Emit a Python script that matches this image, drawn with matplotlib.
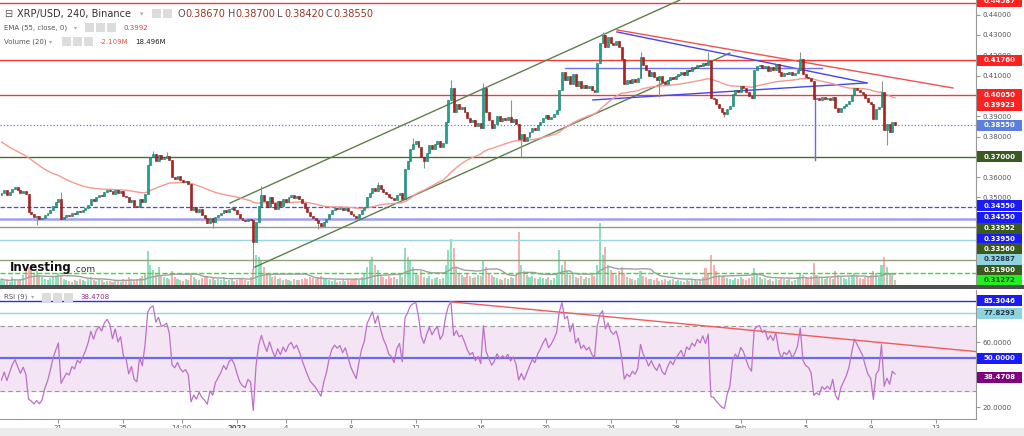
import numpy as np
import pandas as pd
import matplotlib
matplotlib.use("Agg")
import matplotlib.pyplot as plt
from matplotlib.patches import Rectangle

W, H = 1024, 436

# 4h closes of XRP/USD (Binance)
closes = [
    0.3520, 0.3535, 0.3510, 0.3525, 0.3540, 0.3550, 0.3535, 0.3520, 0.3530, 0.3515,
    0.3430, 0.3420, 0.3405, 0.3410, 0.3395, 0.3400, 0.3415, 0.3425, 0.3440, 0.3460,
    0.3475, 0.3490, 0.3395, 0.3405, 0.3415, 0.3410, 0.3425, 0.3420, 0.3435, 0.3430,
    0.3440, 0.3450, 0.3465, 0.3490, 0.3480, 0.3500, 0.3510, 0.3505, 0.3525, 0.3535,
    0.3530, 0.3515, 0.3535, 0.3520, 0.3530, 0.3505, 0.3500, 0.3475, 0.3485, 0.3460,
    0.3455, 0.3490, 0.3475, 0.3515, 0.3660, 0.3700, 0.3715, 0.3680, 0.3710, 0.3690,
    0.3695, 0.3705, 0.3685, 0.3600, 0.3590, 0.3605, 0.3585, 0.3575, 0.3580, 0.3565,
    0.3440, 0.3455, 0.3430, 0.3445, 0.3415, 0.3400, 0.3375, 0.3400, 0.3380, 0.3405,
    0.3415, 0.3425, 0.3440, 0.3430, 0.3445, 0.3450, 0.3440, 0.3420, 0.3400, 0.3390,
    0.3385, 0.3395, 0.3390, 0.3280, 0.3380, 0.3460, 0.3510, 0.3480, 0.3455, 0.3500,
    0.3470, 0.3445, 0.3480, 0.3460, 0.3490, 0.3475, 0.3500, 0.3510, 0.3495, 0.3505,
    0.3490, 0.3470, 0.3450, 0.3430, 0.3410, 0.3400, 0.3390, 0.3375, 0.3360, 0.3380,
    0.3395, 0.3420, 0.3440, 0.3450, 0.3445, 0.3450, 0.3440, 0.3448, 0.3435, 0.3420,
    0.3410, 0.3400, 0.3420, 0.3440, 0.3455, 0.3500, 0.3520, 0.3545, 0.3530, 0.3560,
    0.3540, 0.3525, 0.3515, 0.3500, 0.3495, 0.3485, 0.3510, 0.3520, 0.3490, 0.3640,
    0.3680, 0.3740, 0.3765, 0.3780, 0.3750, 0.3700, 0.3680, 0.3720, 0.3760, 0.3740,
    0.3765, 0.3780, 0.3750, 0.3770, 0.3870, 0.3980, 0.4040, 0.3920, 0.3960, 0.3935,
    0.3945, 0.3920, 0.3890, 0.3870, 0.3880, 0.3850, 0.3865, 0.3840, 0.4040, 0.3920,
    0.3880, 0.3840, 0.3860, 0.3900, 0.3875, 0.3890, 0.3880, 0.3895, 0.3870, 0.3885,
    0.3860, 0.3790, 0.3810, 0.3780, 0.3800, 0.3820, 0.3840, 0.3830, 0.3855, 0.3870,
    0.3890, 0.3905, 0.3885, 0.3895, 0.3910, 0.3930, 0.4030, 0.4120, 0.4080, 0.4100,
    0.4060, 0.4110, 0.4050, 0.4075, 0.4040, 0.4055, 0.4040, 0.4050, 0.4030, 0.4020,
    0.4160, 0.4260, 0.4300, 0.4240, 0.4290, 0.4260, 0.4250, 0.4270, 0.4240, 0.4180,
    0.4060, 0.4080, 0.4065, 0.4085, 0.4070, 0.4090, 0.4190, 0.4150, 0.4130, 0.4100,
    0.4120, 0.4095, 0.4080, 0.4100, 0.4070, 0.4060, 0.4080, 0.4095, 0.4085, 0.4100,
    0.4110, 0.4120, 0.4105, 0.4130, 0.4125, 0.4140, 0.4135, 0.4150, 0.4145, 0.4160,
    0.4150, 0.4170, 0.3990, 0.3985, 0.3960, 0.3940, 0.3920, 0.3910, 0.3935, 0.3950,
    0.4010, 0.4030, 0.4020, 0.4050, 0.4040, 0.4020, 0.4000, 0.3990, 0.4130, 0.4145,
    0.4150, 0.4135, 0.4145, 0.4125, 0.4140, 0.4130, 0.4155, 0.4120, 0.4100, 0.4115,
    0.4110, 0.4120, 0.4105, 0.4115, 0.4130, 0.4180, 0.4110, 0.4095, 0.4090, 0.4075,
    0.3985, 0.3990, 0.3980, 0.3995, 0.3985, 0.3990, 0.3980, 0.3995, 0.3940, 0.3920,
    0.3940, 0.3950, 0.3960, 0.3975, 0.4005, 0.4040, 0.4030, 0.4020, 0.4010, 0.3990,
    0.3970, 0.3960, 0.3885, 0.3935, 0.3945, 0.4020, 0.3830, 0.3860, 0.3820, 0.3870,
    0.3855,
]
first_open = 0.3510

# long wicks only
wick_hi = {22: 0.3528, 56: 0.3727, 61: 0.3725, 96: 0.3556, 139: 0.3575, 152: 0.3795,
           166: 0.4080, 178: 0.4065, 188: 0.3980, 222: 0.4316, 236: 0.4215,
           261: 0.4218, 295: 0.4215, 325: 0.4075}
wick_lo = {13: 0.3365, 78: 0.3350, 93: 0.3145, 117: 0.3345, 156: 0.3645,
           192: 0.3700, 243: 0.3996, 267: 0.3895, 327: 0.3758}

volumes = [
    6, 4, 5, 3, 8, 5, 4, 6, 10, 14,
    18, 16, 12, 14, 10, 8, 6, 5, 7, 9,
    8, 12, 10, 6, 5, 4, 3, 5, 4, 6,
    5, 4, 6, 8, 5, 4, 6, 5, 3, 4,
    4, 3, 5, 4, 3, 6, 5, 8, 6, 5,
    6, 7, 9, 12, 34, 20, 15, 12, 18, 10,
    8, 7, 6, 14, 8, 6, 5, 4, 6, 5,
    12, 8, 6, 5, 7, 8, 9, 6, 8, 5,
    6, 5, 7, 4, 5, 6, 4, 5, 7, 6,
    5, 4, 8, 16, 30, 28, 25, 18, 12, 10,
    8, 9, 6, 7, 5, 6, 5, 4, 6, 5,
    5, 6, 7, 6, 8, 7, 6, 8, 9, 7,
    6, 5, 4, 5, 3, 4, 5, 4, 6, 5,
    6, 7, 5, 8, 12, 18, 24, 28, 20, 15,
    10, 8, 6, 9, 7, 8, 6, 10, 8, 37,
    28, 24, 18, 12, 10, 14, 8, 7, 9, 6,
    7, 8, 6, 7, 20, 35, 46, 37, 18, 12,
    10, 8, 12, 9, 7, 8, 10, 9, 25, 18,
    12, 10, 8, 7, 6, 5, 7, 6, 8, 7,
    10, 53, 20, 14, 10, 8, 9, 7, 6, 8,
    7, 6, 8, 5, 7, 10, 35, 20, 24, 14,
    10, 12, 8, 7, 9, 6, 8, 7, 10, 9,
    20, 62, 30, 38, 20, 15, 12, 10, 14, 18,
    12, 8, 7, 6, 5, 7, 14, 9, 8, 6,
    6, 5, 7, 4, 5, 6, 4, 5, 6, 4,
    5, 4, 3, 5, 4, 6, 5, 4, 6, 8,
    17, 12, 30, 20, 14, 10, 8, 9, 7, 6,
    5, 7, 6, 8, 6, 5, 7, 8, 17, 12,
    8, 6, 7, 5, 6, 4, 6, 5, 7, 6,
    5, 6, 4, 5, 8, 12, 10, 8, 7, 9,
    22, 10, 8, 7, 6, 8, 7, 6, 14, 10,
    8, 7, 6, 8, 10, 12, 9, 7, 6, 8,
    8, 10, 14, 12, 8, 20, 28, 18, 12, 10, 5,
]

ema_seed = 0.3782
rsi_seed = (0.0008, 0.0016)

tick_times = ["2021-12-21", "2021-12-25", "2021-12-28 14:00", "2022-01-01", "2022-01-04",
              "2022-01-08", "2022-01-12", "2022-01-16", "2022-01-20", "2022-01-24",
              "2022-01-28", "2022-02-01", "2022-02-05", "2022-02-09", "2022-02-13"]
tick_text = ["21", "25", "14:00", "2022", "4", "8", "12", "16", "20", "24", "28",
             "Feb", "5", "9", "13"]

# drawings: (candle index, price)
channel_low = [(93.6, 0.3157), (269.0, 0.4211)]
channel_high = [(84.4, 0.3472), (250.5, 0.4472)]
wedge_top = [(227.3, 0.4315), (319.6, 0.4064)]
wedge_bot = [(218.4, 0.3980), (319.6, 0.4064)]
box_line = [(208.0, 0.4137), (303.0, 0.4137)]
red_trend = [(227.3, 0.4325), (351.4, 0.4039)]
drop_line = [(300.4, 0.3684), (300.4, 0.4000)]
rsi_trend = [(165.6, 84.8), (360.2, 54.1)]

# horizontal levels: price, colour, style, width
levels = [
    (0.44587, "#f23a3a", "-", 1.0), (0.41760, "#f23a3a", "-", 1.0),
    (0.40050, "#f23a3a", "-", 1.0), (0.38550, "#5b7fe0", ":", 0.9),
    (0.37000, "#4b6b2f", "-", 1.0), (0.34550, "#4848f0", "--", 0.9),
    (0.33950, "#a0a0f4", "-", 1.8), (0.33560, "#8fa27f", "-", 1.0),
    (0.32887, "#9dd6de", "-", 1.0), (0.31900, "#8fa27f", "-", 1.0),
    (0.31272, "#33dd33", "--", 1.0),
]
# right scale tags: text, position, background, text colour
tags = [
    ("0.44587", 0.4466, "#ff2020", "white"), ("0.41760", 0.4176, "#ff2020", "white"),
    ("0.40050", 0.4005, "#ff2020", "white"), ("0.39923", 0.3954, "#ff2020", "white"),
    ("0.38550", 0.3855, "#5b7fe0", "white"), ("0.37000", 0.3700, "#3b5a22", "white"),
    ("0.34550", 0.3459, "#1a1aff", "white"), ("0.34550", 0.3402, "#1a1aff", "white"),
    ("0.33952", 0.3348, "#3b5a22", "white"), ("0.33950", 0.3294, "#1a1aff", "white"),
    ("0.33560", 0.3247, "#3b5a22", "white"), ("0.32887", 0.3195, "#8fd3df", "#1f3a4a"),
    ("0.31900", 0.3142, "#3b5a22", "white"), ("0.31272", 0.3093, "#22ee22", "#114411"),
]
rsi_levels = [(85.3046, "#2a2af5", 1.0), (77.8293, "#92d5e2", 1.0), (50.0, "#6868f0", 1.6)]
rsi_tags = [("85.3046", 85.3046, "#1a1aff", "white"), ("77.8293", 77.8293, "#8fd3df", "#1f3a4a"),
            ("50.0000", 50.0, "#1a1aff", "white"), ("38.4708", 38.4708, "#800080", "white")]

# ---- indicators
n = len(closes)
idx = np.arange(n)
opens = [first_open] + closes[:-1]
times = pd.date_range("2021-12-17 12:00", periods=n, freq="4h")

ema, e = [], ema_seed
for c in closes:
    e += 2 / 56 * (c - e)
    ema.append(e)

rsi, (ag, al) = [], rsi_seed
for o, c in zip(opens, closes):
    d = c - o
    ag = (ag * 8 + max(d, 0)) / 9
    al = (al * 8 + max(-d, 0)) / 9
    rsi.append(100 - 100 / (1 + ag / al))

vol_ma = pd.Series(volumes).rolling(20, min_periods=1).mean()

# ---- figure
fig = plt.figure(figsize=(W / 100, H / 100), dpi=100)
main_rect = [0, (H - 285) / H, 976 / W, 285 / H]
ax_v = fig.add_axes(main_rect)
ax = fig.add_axes(main_rect, sharex=ax_v)
ax_r = fig.add_axes([0, (H - 419) / H, 976 / W, 129 / H], sharex=ax_v)
ax.set_zorder(2)
ax.patch.set_alpha(0)

ax.set_xlim(-0.55, 359.9)
ax.set_ylim(0.30685, 0.44724)
ax_r.set_ylim(12.65, 92.03)

up = np.array(closes) >= np.array(opens)

# volume
ax_v.set_ylim(0, max(volumes) * 285 / 62)
ax_v.bar(idx, volumes, width=0.75, color=np.where(up, "#8ee0bd", "#f7b0ad"), linewidth=0)
ax_v.plot(idx, vol_ma, color="#a0a0a0", lw=1)
ax_v.axis("off")

# levels and drawings
for p, col, ls, lw in levels:
    ax.axhline(p, color=col, ls=ls, lw=lw, zorder=1)
for seg, col in [(channel_low, "#5f7f4a"), (channel_high, "#5f7f4a"), (wedge_top, "#4646ee"),
                 (wedge_bot, "#4646ee"), (box_line, "#7070f0"), (red_trend, "#f05050"),
                 (drop_line, "#6a6af0")]:
    (x0, y0), (x1, y1) = seg
    ax.plot([x0, x1], [y0, y1], color=col, lw=1, zorder=1)

ax.plot(idx, ema, color="#f39a92", lw=1, zorder=2)

# candles
hi = [max(o, c, wick_hi.get(i, 0)) for i, (o, c) in enumerate(zip(opens, closes))]
lo = [min(o, c, wick_lo.get(i, 1)) for i, (o, c) in enumerate(zip(opens, closes))]
ax.vlines(idx, lo, hi, color="#8a9590", lw=0.8, zorder=3)
body = np.array(closes) - np.array(opens)
body = np.where(np.abs(body) < 0.0003, 0.0003, body)
ax.bar(idx, body, bottom=opens, width=0.72, color=np.where(up, "#1fa38a", "#b3201e"),
       edgecolor=np.where(up, "#147a66", "#8c1512"), linewidth=0.4, zorder=4)

# RSI panel
ax_r.axhspan(30, 70, color="#f3e5f3", zorder=0)
for v in (30, 70):
    ax_r.axhline(v, color="#999999", ls=(0, (4, 3)), lw=0.8)
for v, col, lw in rsi_levels:
    ax_r.axhline(v, color=col, lw=lw)
(x0, y0), (x1, y1) = rsi_trend
ax_r.plot([x0, x1], [y0, y1], color="#f25a5a", lw=1)
ax_r.plot(idx, rsi, color="#bb70c8", lw=0.9)

# axes styling
for a in (ax, ax_r):
    for s in ("left", "top"):
        a.spines[s].set_visible(False)
    a.spines["right"].set_color("#999999")
    a.yaxis.tick_right()
    a.tick_params(axis="y", length=3, color="#999999", labelsize=5, labelcolor="#555555", pad=2)
ax.spines["bottom"].set_visible(False)
ax.tick_params(axis="x", bottom=False, labelbottom=False)
ax_r.spines["bottom"].set_color("#999999")
ax.set_yticks([0.35, 0.36, 0.38, 0.39, 0.41, 0.42, 0.43, 0.44])
ax.yaxis.set_major_formatter(plt.FormatStrFormatter("%.5f"))
ax_r.set_yticks([20, 60])
ax_r.yaxis.set_major_formatter(plt.FormatStrFormatter("%.4f"))
tick_pos = [(pd.Timestamp(t) - times[0]) / pd.Timedelta("4h") for t in tick_times]
ax_r.set_xticks(tick_pos)
ax_r.set_xticklabels(tick_text)
ax_r.tick_params(axis="x", length=3, color="#999999", labelsize=5, labelcolor="#555555", pad=1.5)
ax_r.get_xticklabels()[3].set_fontweight("bold")


def tag(a, val, text, bg, fg):
    yd = a.transData.transform((0, val))[1]
    fig.add_artist(Rectangle((977 / W, (yd - 5.5) / H), 45 / W, 11 / H, transform=fig.transFigure,
                             facecolor=bg, edgecolor="none", zorder=5))
    fig.text(999.5 / W, yd / H, text, color=fg, fontsize=5, fontweight="bold",
             ha="center", va="center", zorder=6)


for t, v, bg, fg in tags:
    tag(ax, v, t, bg, fg)
for t, v, bg, fg in rsi_tags:
    tag(ax_r, v, t, bg, fg)

# separator and bottom band
fig.add_artist(Rectangle((0, (H - 289) / H), 1, 4 / H, transform=fig.transFigure,
                         facecolor="#505050", edgecolor="none", zorder=7))
fig.add_artist(Rectangle((0, 0), 1, 8 / H, transform=fig.transFigure,
                         facecolor="#ececec", edgecolor="none", zorder=7))


def txt(x, y, s, size=5, color="#555555", **kw):
    fig.text(x / W, 1 - y / H, s, fontsize=size, color=color, va="center", ha="left", **kw)


def icons(x, y, count):
    for k in range(count):
        fig.add_artist(Rectangle(((x + 11 * k) / W, 1 - (y + 4.5) / H), 9 / W, 9 / H,
                                 transform=fig.transFigure, facecolor="#dcdcdc",
                                 edgecolor="none"))


# legends
txt(4, 14, "⊟", 7)
txt(17, 14, "XRP/USD, 240, Binance", 7, "#333333")
txt(140, 14, "▾", 5, "#aaaaaa")
icons(152, 14, 2)
for x, lab, val in [(178, "O", "0.38670"), (228, "H", "0.38700"), (277, "L", "0.38420"),
                    (326, "C", "0.38550")]:
    txt(x, 14, lab, 7, "#555555")
    txt(x + 7, 14, val, 7, "#9a3324")
txt(4, 28, "EMA (55, close, 0)", 5)
txt(74, 28, "▾", 4.5, "#aaaaaa")
icons(85, 28, 3)
txt(123, 28, "0.3992", 5, "#f23030")
txt(4, 42, "Volume (20)", 5)
txt(49, 42, "▾", 4.5, "#aaaaaa")
icons(62, 42, 3)
txt(100, 42, "-2.109M", 5, "#ef5350")
txt(135, 42, "18.496M", 5, "#222222")
txt(4, 297, "RSI (9)", 5)
txt(31, 297, "▾", 4.5, "#aaaaaa")
icons(42, 297, 3)
txt(80, 297, "38.4708", 5, "#8e2a8e")
txt(10, 268, "Investing", 8.5, "#111111", fontweight="bold")
txt(73, 270, ".com", 6.5, "#333333")

fig.savefig("out.png", dpi=100)
